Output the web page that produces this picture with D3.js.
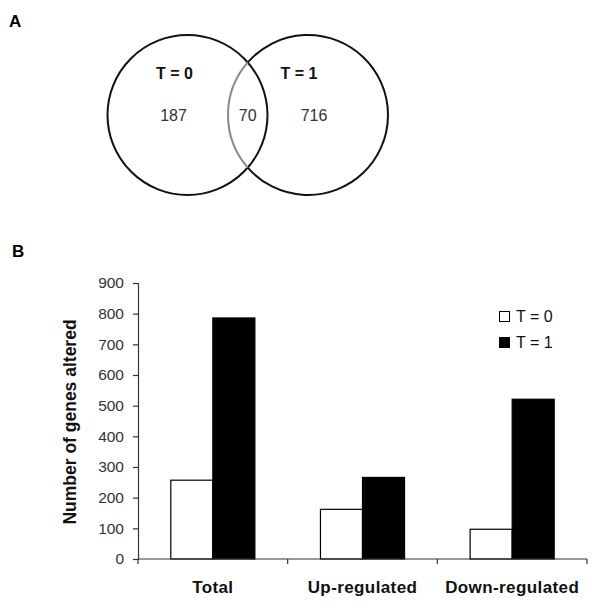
<!DOCTYPE html>
<html><head><meta charset="utf-8">
<script src="https://cdn.jsdelivr.net/npm/d3@7"></script>
<style>body{margin:0;background:#fff}svg{display:block;font-family:"Liberation Sans",Arial,sans-serif}</style>
</head><body><svg id="c" width="600" height="608"></svg>
<script>
// Venn data
const vennSets = ["T = 0", "T = 1"];
const vennOnly = [187, 716];
const vennBoth = 70;
// Bar data
const categories = ["Total", "Up-regulated", "Down-regulated"];
const seriesNames = ["T = 0", "T = 1"];
const t0Values = [257, 162, 97];
const t1Values = [786, 266, 521];
const yTicks = [0,100,200,300,400,500,600,700,800,900];

const svg = d3.select("#c");
// Panel labels
svg.append("text").attr("x",9).attr("y",27).attr("font-size",17).attr("font-weight","bold").text("A");
svg.append("text").attr("x",12).attr("y",257).attr("font-size",17).attr("font-weight","bold").text("B");

// Venn
const vx = d3.scaleLinear().domain([0,1]).range([187.5,308]);
const vr = 80, vcy = 115;
const vg = svg.append("g");
const d = vx(1)-vx(0);
const ang = Math.acos((d/2)/vr);
vg.append("circle").attr("cx",vx(0)).attr("cy",vcy).attr("r",vr).attr("fill","none").attr("stroke","#111").attr("stroke-width",2);
// right circle: black outside the left circle, gray inside it
vg.append("path").attr("transform",`translate(${vx(1)},${vcy})`)
  .attr("d", d3.arc()({innerRadius:vr,outerRadius:vr,startAngle:-Math.PI/2+ang,endAngle:1.5*Math.PI-ang}))
  .attr("fill","none").attr("stroke","#111").attr("stroke-width",2);
vg.append("path").attr("transform",`translate(${vx(1)},${vcy})`)
  .attr("d", d3.arc()({innerRadius:vr,outerRadius:vr,startAngle:-Math.PI/2-ang,endAngle:-Math.PI/2+ang}))
  .attr("fill","none").attr("stroke","#888").attr("stroke-width",2);
vennSets.forEach((s,i)=>{
  vg.append("text").attr("x",vx(i)-13+ (i?4:0)).attr("y",79).attr("text-anchor","middle").attr("font-size",16).attr("font-weight","bold").attr("fill","#111").text(s);
  vg.append("text").attr("x",i?vx(i)+6:vx(i)-14).attr("y",121).attr("text-anchor","middle").attr("font-size",16).attr("fill","#333").text(vennOnly[i]);
});
vg.append("text").attr("x",(vx(0)+vx(1))/2).attr("y",121).attr("text-anchor","middle").attr("font-size",16).attr("fill","#333").text(vennBoth);

// Bar chart
const x = d3.scaleBand().domain(categories).range([138,587]).paddingInner(0).paddingOuter(0);
const xs = d3.scaleBand().domain(seriesNames).range([0,x.bandwidth()]).paddingInner(0).paddingOuter(0.78);
const y = d3.scaleLinear().domain([0,900]).range([559,283]);
const bg = svg.append("g");
const colors = ["#fff","#000"];
const vals = [t0Values,t1Values];
categories.forEach((c,ci)=>{
  seriesNames.forEach((s,si)=>{
    bg.append("rect").attr("x",x(c)+xs(s)).attr("y",y(vals[si][ci]))
      .attr("width",xs.bandwidth()).attr("height",y(0)-y(vals[si][ci]))
      .attr("fill",colors[si]).attr("stroke","#000").attr("stroke-width",1.2);
  });
});
// y axis
const ya = svg.append("g").attr("transform","translate(138,0)")
  .call(d3.axisLeft(y).tickValues(yTicks).tickSize(5).tickPadding(9).tickFormat(d3.format("d")));
ya.select(".domain").attr("stroke","#333").attr("stroke-width",1.2);
ya.selectAll(".tick line").attr("stroke","#333").attr("stroke-width",1.2);
ya.selectAll("text").attr("font-size",15.5).attr("fill","#333").attr("font-family","Liberation Sans, Arial, sans-serif");
// x axis
const xa = svg.append("g").attr("transform","translate(0,559)");
xa.append("line").attr("x1",138).attr("x2",587).attr("stroke","#333").attr("stroke-width",1.2);
const bounds = categories.map(c=>x(c)).concat([x(categories[categories.length-1])+x.bandwidth()]);
bounds.forEach(b=>xa.append("line").attr("x1",b).attr("x2",b).attr("y1",0).attr("y2",5).attr("stroke","#333").attr("stroke-width",1.2));
categories.forEach(c=>{
  xa.append("text").attr("x",x(c)+x.bandwidth()/2).attr("y",34).attr("text-anchor","middle")
    .attr("font-size",17).attr("font-weight","bold").attr("fill","#111").attr("letter-spacing",0.4).text(c);
});
// y title
svg.append("text").attr("transform","translate(76,422) rotate(-90)").attr("text-anchor","middle")
  .attr("font-size",17.5).attr("font-weight","bold").attr("fill","#111").text("Number of genes altered");
// legend
const lg = svg.append("g");
seriesNames.forEach((s,i)=>{
  lg.append("rect").attr("x",499.5).attr("y",311.5+i*26).attr("width",10).attr("height",10)
    .attr("fill",colors[i]).attr("stroke","#000").attr("stroke-width",1);
  lg.append("text").attr("x",516).attr("y",322+i*26).attr("font-size",16).attr("fill","#111").text(s);
});
</script></body></html>
